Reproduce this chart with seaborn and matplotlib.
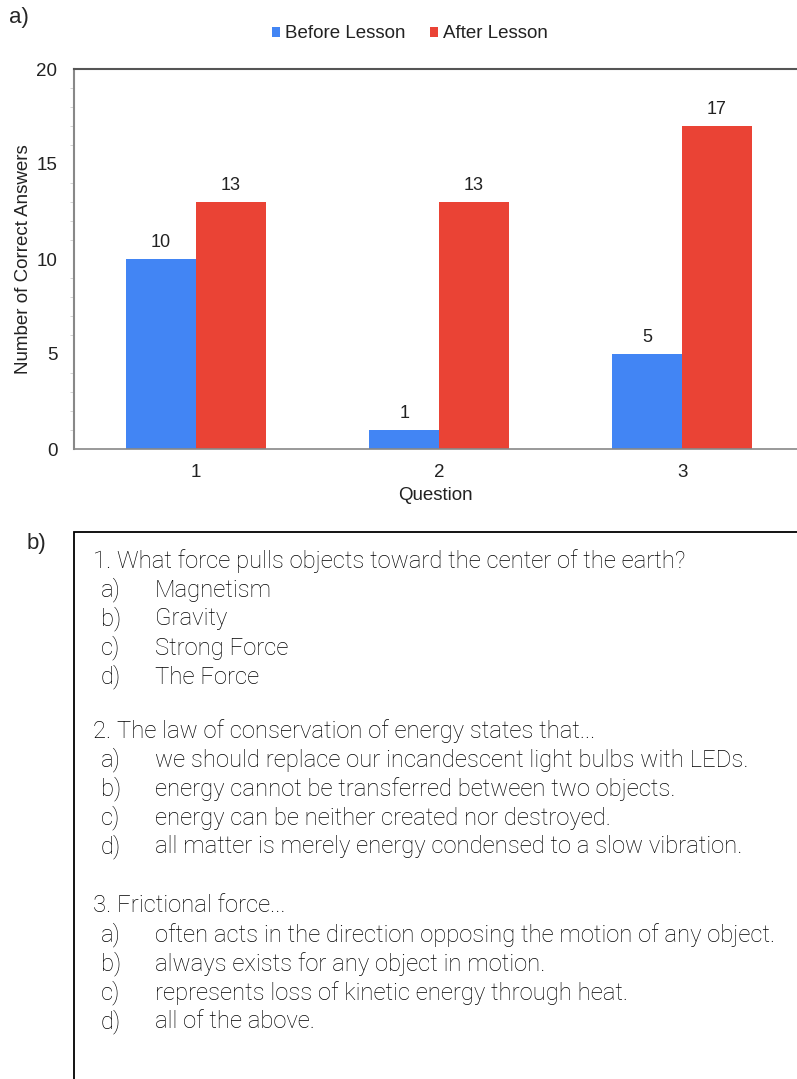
import pandas as pd
import matplotlib.pyplot as plt
import matplotlib.patches as mpatches
import seaborn as sns

questions = ["1", "2", "3"]
before_lesson = [10, 1, 5]
after_lesson = [13, 13, 17]
series_names = ["Before Lesson", "After Lesson"]

quiz_lines = [
    ("1. What force pulls objects toward the center of the earth?", [
        "Magnetism",
        "Gravity",
        "Strong Force",
        "The Force",
    ]),
    ("2. The law of conservation of energy states that...", [
        "we should replace our incandescent light bulbs with LEDs.",
        "energy cannot be transferred between two objects.",
        "energy can be neither created nor destroyed.",
        "all matter is merely energy condensed to a slow vibration.",
    ]),
    ("3. Frictional force...", [
        "often acts in the direction opposing the motion of any object.",
        "always exists for any object in motion.",
        "represents loss of kinetic energy through heat.",
        "all of the above.",
    ]),
]
option_letters = ["a)", "b)", "c)", "d)"]

df = pd.DataFrame({
    "Question": questions * 2,
    "count": before_lesson + after_lesson,
    "when": [series_names[0]] * 3 + [series_names[1]] * 3,
})

sns.set_style("white")
plt.rcParams["font.family"] = ["Liberation Sans", "DejaVu Sans"]

W, H = 797, 1079
fig = plt.figure(figsize=(W / 100, H / 100), dpi=100)
ax = fig.add_axes([74 / W, 1 - 449 / H, 1 - 74 / W, (449 - 69) / H])

sns.barplot(df, x="Question", y="count", hue="when",
            palette=["#4285F4", "#EA4335"], width=0.574,
            saturation=1, linewidth=0, ax=ax, legend=True)

for cont in ax.containers:
    ax.bar_label(cont, padding=6, fontsize=13, color="#222222")

ax.set_ylim(0, 20)
ax.set_xlim(-0.502, 2.473)
ax.set_yticks([0, 5, 10, 15, 20])
ax.set_yticks(range(0, 21), minor=True)
ax.tick_params(axis="y", which="major", length=5, color="#bbbbbb",
               labelsize=13.5, labelcolor="#222222", pad=7)
ax.tick_params(axis="y", which="minor", length=3, color="#cccccc", left=True)
ax.tick_params(axis="x", length=0, labelsize=13.5, labelcolor="#222222", pad=11)
ax.set_xlabel("Question", fontsize=13.5, color="#222222", labelpad=4)
ax.set_ylabel("Number of Correct Answers", fontsize=13.5, color="#222222", labelpad=3)

ax.spines["right"].set_visible(False)
ax.spines["top"].set_color("#555555")
ax.spines["top"].set_linewidth(1.5)
ax.spines["left"].set_color("#888888")
ax.spines["left"].set_linewidth(1.5)
ax.spines["bottom"].set_color("#888888")
ax.spines["bottom"].set_linewidth(1.2)

handles, labels = ax.get_legend_handles_labels()
ax.legend(handles, labels, loc="center", bbox_to_anchor=(0.514, 1 - 34 / H),
          bbox_transform=fig.transFigure, ncol=2, frameon=False,
          fontsize=13.5, handlelength=0.45, handleheight=0.45,
          handletextpad=0.25, columnspacing=1.3, labelcolor="#222222")

fig.text(9 / W, 1 - 18 / H, "a)", fontsize=16, ha="left", va="center")
fig.text(27 / W, 1 - 543 / H, "b)", fontsize=16, ha="left", va="center")

# text box for the quiz questions
box = mpatches.Rectangle((74 / W, -0.05), 1.0, 1 - 532 / H + 0.05,
                         transform=fig.transFigure, fill=False,
                         edgecolor="black", linewidth=1.3, clip_on=False)
fig.add_artist(box)

text_kw = dict(fontsize=17.2, ha="left", va="center", color="black",
               family=["Roboto", "DejaVu Sans"], fontweight="light")
q_y = [561, 731, 906]
for (question, options), y0 in zip(quiz_lines, q_y):
    fig.text(93 / W, 1 - y0 / H, question, **text_kw)
    for i, (letter, opt) in enumerate(zip(option_letters, options)):
        y = y0 + 29 * (i + 1)
        fig.text(101 / W, 1 - y / H, letter, **text_kw)
        fig.text(155 / W, 1 - y / H, opt, **text_kw)

fig.savefig("out.png", dpi=100)
